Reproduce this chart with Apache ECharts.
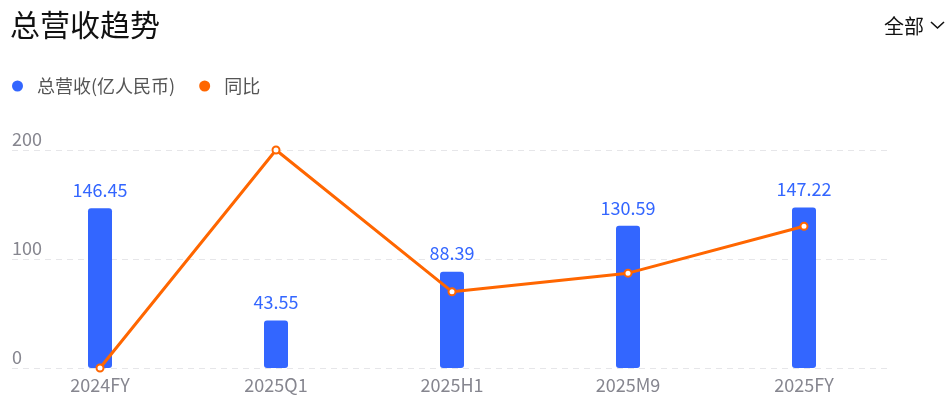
<!DOCTYPE html>
<html>
<head>
<meta charset="utf-8">
<script src="https://cdn.jsdelivr.net/npm/echarts@6/dist/echarts.min.js"></script>
<style>
html,body{margin:0;padding:0;background:#fff;}
#c{width:951px;height:411px;}
</style>
</head>
<body>
<div id="c"></div>
<script>
var categories = ['2024FY', '2025Q1', '2025H1', '2025M9', '2025FY'];
var revenue = [146.45, 43.55, 88.39, 130.59, 147.22];
var yoy = [0, 200, 70, 87, 130];
var yTicks = [0, 100, 200];

var FONT = '"Noto Sans CJK SC", "Noto Sans", sans-serif';
var chart = echarts.init(document.getElementById('c'), null, {renderer: 'canvas'});
chart.setOption({
  animation: false,
  textStyle: {fontFamily: FONT},
  title: {
    text: '总营收趋势',
    left: 5, top: 5,
    textStyle: {fontSize: 30, fontWeight: 'normal', color: '#111', fontFamily: FONT}
  },
  graphic: [
    {type: 'text', left: 884, top: 16,
     style: {text: '全部', fontSize: 20, fill: '#111', fontFamily: FONT}},
    {type: 'polyline', shape: {points: [[931, 22], [937.5, 28], [944, 22]]},
     style: {stroke: '#111', lineWidth: 1.6, fill: null}}
  ],
  legend: {
    left: 12, top: 77, padding: 0,
    itemWidth: 11, itemHeight: 11,
    itemGap: 24,
    icon: 'circle',
    textStyle: {fontSize: 18, color: '#555', padding: [0, 0, 0, 9], fontFamily: FONT},
    data: ['总营收(亿人民币)', '同比']
  },
  grid: {left: 12, right: 59, top: 150, bottom: 43},
  xAxis: {
    type: 'category',
    data: categories,
    axisLine: {show: false},
    axisTick: {show: false},
    axisLabel: {fontSize: 18, color: '#86868f', margin: 8, fontFamily: FONT}
  },
  yAxis: [{
    type: 'value',
    min: yTicks[0], max: yTicks[yTicks.length - 1], interval: 100,
    axisLine: {show: false},
    axisTick: {show: false},
    axisLabel: {inside: true, margin: 0, verticalAlign: 'bottom', fontSize: 18,
                color: '#86868f', padding: [0, 0, 2, 0], fontFamily: FONT},
    splitLine: {lineStyle: {color: '#e6e6e9', type: [6, 5], width: 1}}
  }, {
    type: 'value', min: 0, max: 200, show: false,
    splitLine: {show: false}
  }],
  series: [{
    name: '总营收(亿人民币)',
    type: 'bar',
    data: revenue,
    barWidth: 24,
    itemStyle: {color: '#3366ff', borderRadius: 3},
    label: {show: true, position: 'top', distance: 9, fontSize: 18, color: '#3366ff', fontFamily: FONT}
  }, {
    name: '同比',
    type: 'line',
    yAxisIndex: 1,
    data: yoy,
    symbol: 'emptyCircle',
    symbolSize: 7,
    lineStyle: {color: '#ff6600', width: 3},
    itemStyle: {color: '#ff6600', borderWidth: 2},
    z: 5
  }]
});
</script>
</body>
</html>
